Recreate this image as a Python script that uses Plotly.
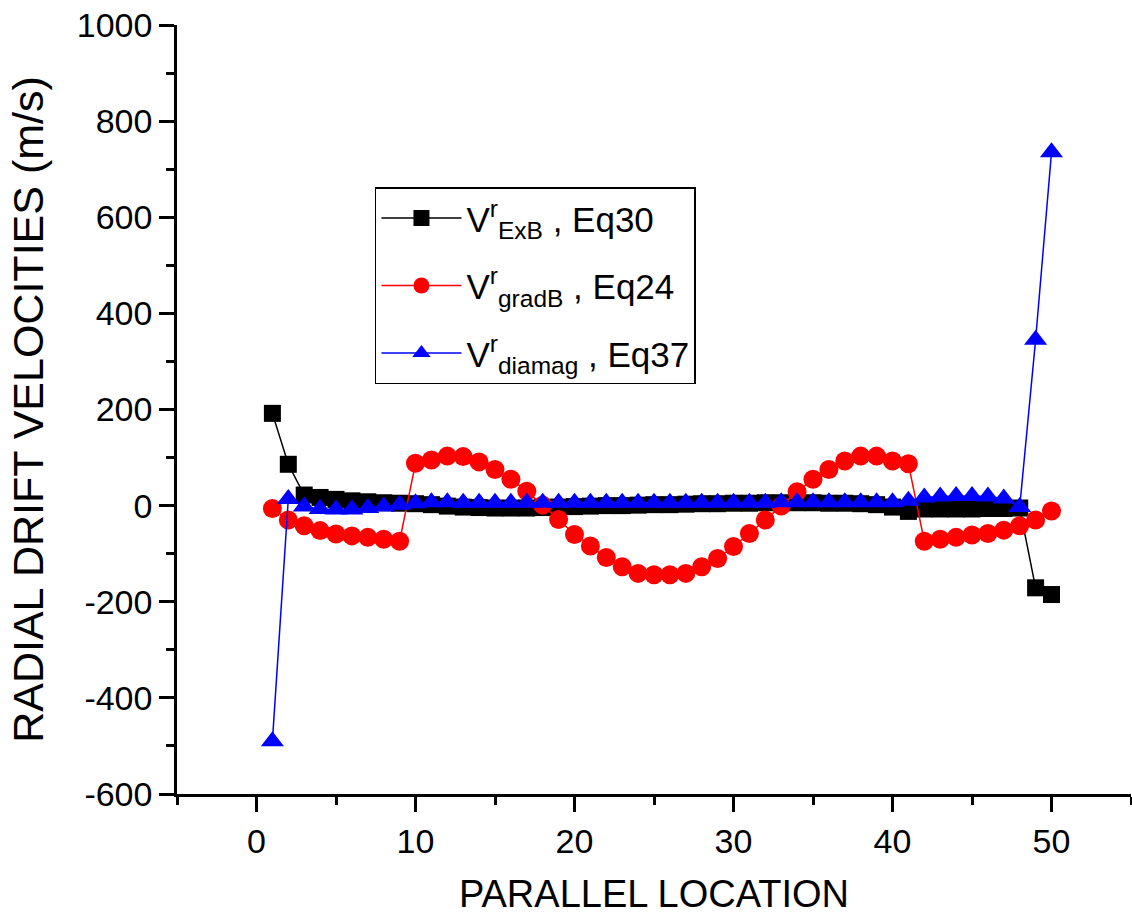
import plotly.graph_objects as go

x_loc = list(range(1, 51))

v_exb = [192, 86, 22, 17, 13, 10, 8, 6, 5, 4,
         2, -1, -3, -4, -5, -5, -5, -4, -3, -2,
         -1, 0, 0, 1, 2, 2, 3, 4, 4, 5,
         5, 6, 6, 6, 6, 5, 5, 4, 2, -3,
         -12, -7, -7, -7, -7, -6, -6, -5, -171, -185]

v_gradb = [-6, -30, -42, -52, -59, -63, -66, -70, -74, 88,
           95, 103, 102, 91, 75, 55, 30, 1, -29, -60,
           -84, -108, -127, -141, -144, -144, -141, -127, -110, -85,
           -58, -30, -1, 29, 55, 75, 93, 103, 103, 93,
           87, -74, -70, -66, -61, -58, -51, -42, -30, -11]

v_diamag = [-490, 14, -2, -7, -8, -8, -5, -2, 2, 5,
            7, 7, 6, 6, 6, 6, 6, 6, 6, 6,
            6, 6, 6, 6, 6, 6, 6, 6, 6, 6,
            6, 6, 7, 7, 7, 7, 7, 7, 7, 7,
            10, 17, 19, 20, 20, 19, 15, -3, 345, 735]

names = ["V<sup>r</sup><sub>ExB</sub> , Eq30",
         "V<sup>r</sup><sub>gradB</sub> , Eq24",
         "V<sup>r</sup><sub>diamag</sub> , Eq37"]

y_tickvals = [-600, -400, -200, 0, 200, 400, 600, 800, 1000]
y_ticktext = ["-600", "-400", "-200", "0", "200", "400", "600", "800", "1000"]
x_tickvals = [0, 10, 20, 30, 40, 50]
x_ticktext = ["0", "10", "20", "30", "40", "50"]

FONT = "Liberation Sans, Arial, sans-serif"

fig = go.Figure()
fig.add_trace(go.Scatter(x=x_loc, y=v_exb, mode="lines+markers", name=names[0], legendgroup="a",
                         line=dict(color="black", width=1.5),
                         marker=dict(symbol="square", size=17, color="black")))
fig.add_trace(go.Scatter(x=x_loc, y=v_gradb, mode="lines+markers", name=names[1], legendgroup="b",
                         line=dict(color="red", width=1.5),
                         marker=dict(symbol="circle", size=19, color="red")))
fig.add_trace(go.Scatter(x=x_loc, y=v_diamag, mode="lines+markers", name=names[2], legendgroup="c",
                         line=dict(color="blue", width=1.5),
                         marker=dict(symbol="triangle-up", size=20, color="blue")))

axis_common = dict(showline=True, linecolor="black", linewidth=2.5,
                   ticks="outside", ticklen=15, tickwidth=2.5, tickcolor="black",
                   showgrid=False, zeroline=False, mirror=False,
                   tickmode="array",
                   tickfont=dict(family=FONT, size=34, color="black"))

fig.update_xaxes(range=[-5, 55], tickvals=x_tickvals, ticktext=x_ticktext,
                 minor=dict(ticks="outside", ticklen=8, tickwidth=2.5, dtick=5, tick0=0, tickcolor="black"),
                 title=dict(text="PARALLEL LOCATION", font=dict(family=FONT, size=38, color="black"), standoff=22),
                 **axis_common)
fig.update_yaxes(range=[-600, 1000], tickvals=y_tickvals, ticktext=y_ticktext,
                 minor=dict(ticks="outside", ticklen=8, tickwidth=2.5, dtick=100, tick0=0, tickcolor="black"),
                 title=dict(text="RADIAL DRIFT VELOCITIES (m/s)", font=dict(family=FONT, size=43, color="black"), standoff=20),
                 **axis_common)

fig.update_layout(
    width=1132, height=917,
    margin=dict(l=177, r=1, t=25, b=123),
    plot_bgcolor="white", paper_bgcolor="white",
    font=dict(family=FONT, color="black"),
    showlegend=True,
    legend=dict(x=0.2075, y=0.789, xanchor="left", yanchor="top",
                bgcolor="white", bordercolor="black", borderwidth=1.5,
                font=dict(family=FONT, size=35, color="black"),
                itemwidth=80, tracegroupgap=19),
)

fig.write_html("out.html")
